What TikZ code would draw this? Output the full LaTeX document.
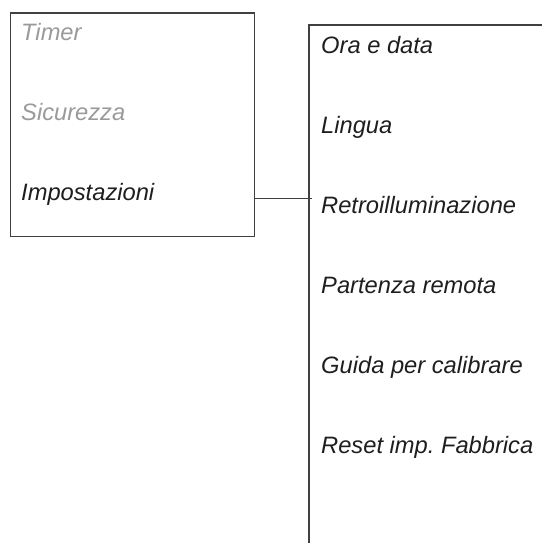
\documentclass[tikz,border=0pt]{standalone}
\usepackage{fontspec}
\setmainfont{Liberation Sans}
\definecolor{linegray}{HTML}{404040}
\definecolor{dimtext}{HTML}{9A9A9A}
\definecolor{darktext}{HTML}{1E1E1E}
\begin{document}
\begin{tikzpicture}[x=1pt,y=-1pt,
  frame/.style={draw=linegray,line width=1.2pt},
  item/.style={anchor=base west,inner sep=0pt,font=\fontsize{23.7}{26}\selectfont\itshape},
  dimitem/.style={item,text=dimtext},
  activeitem/.style={item,text=darktext},
  link/.style={draw=linegray,line width=1.2pt}]
\useasboundingbox (0,0) rectangle (542,543);
% left menu box
\node[frame,rectangle,minimum width=244pt,minimum height=223.5pt,inner sep=0pt,anchor=north west] (menu) at (10,12.5) {};
\node[dimitem] (timer) at (21,40.5) {Timer};
\node[dimitem] (sic) at (21,120.5) {Sicurezza};
\node[activeitem] (imp) at (21,200.5) {Impostazioni};
% right submenu panel (open on right and bottom)
\coordinate (subtl) at (309,25);
\coordinate (subtr) at (542,25);
\coordinate (subbl) at (309,543);
\draw[frame] (subtr) -- (subtl) -- (subbl);
\node[activeitem] (ora) at (321,53) {Ora e data};
\node[activeitem] (lingua) at (321,133) {Lingua};
\node[activeitem] (retro) at (321,213) {Retroilluminazione};
\node[activeitem] (part) at (321,293) {Partenza remota};
\node[activeitem] (guida) at (321,373) {Guida per calibrare};
\node[activeitem] (reset) at (321,453) {Reset imp.\ Fabbrica};
% connector
\coordinate (linkend) at (312,198.5);
\draw[link] (menu.east |- linkend) -- (linkend);
\end{tikzpicture}
\end{document}
